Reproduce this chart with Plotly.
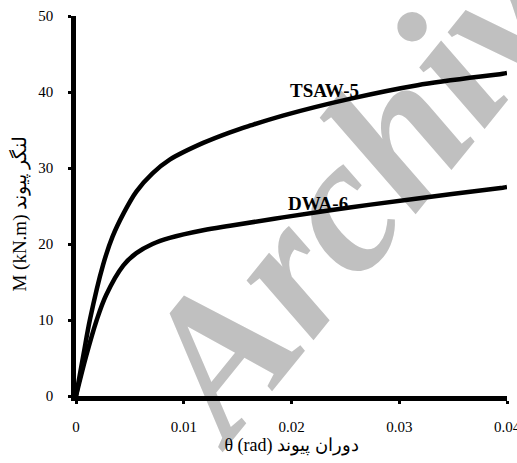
import plotly.graph_objects as go

# Data
tsaw_theta = [0, 0.0007, 0.0013, 0.0025, 0.0034, 0.0044, 0.0056, 0.0071, 0.0087,
              0.0118, 0.0143, 0.0162, 0.0192, 0.0254, 0.0317, 0.0396, 0.0400]
tsaw_m = [0, 5.5, 10.1, 17.2, 21.0, 24.0, 26.9, 29.3, 31.1,
          33.3, 34.7, 35.6, 36.9, 39.1, 40.9, 42.4, 42.5]

dwa_theta = [0, 0.00095, 0.0019, 0.0028, 0.0044, 0.0056, 0.0071, 0.0087,
             0.0118, 0.0143, 0.0192, 0.0254, 0.0317, 0.0396, 0.0400]
dwa_m = [0, 5.3, 9.9, 13.3, 17.2, 18.8, 20.0, 20.8,
         21.8, 22.4, 23.5, 24.8, 26.0, 27.4, 27.5]

x_ticks = [0, 0.01, 0.02, 0.03, 0.04]
x_tick_labels = ["0", "0.01", "0.02", "0.03", "0.04"]
y_ticks = [0, 10, 20, 30, 40, 50]

series_labels = ["TSAW-5", "DWA-6"]
label_pos = [(0.02306, 40.2), (0.0225, 25.3)]

FONT = "Liberation Serif, Times New Roman, serif"

fig = go.Figure()
fig.add_trace(go.Scatter(x=tsaw_theta, y=tsaw_m, mode="lines", name="TSAW-5",
                         line=dict(color="black", width=4.5, shape="spline", smoothing=1.0),
                         showlegend=False, cliponaxis=False))
fig.add_trace(go.Scatter(x=dwa_theta, y=dwa_m, mode="lines", name="DWA-6",
                         line=dict(color="black", width=4.5, shape="spline", smoothing=1.0),
                         showlegend=False, cliponaxis=False))

for txt, (lx, ly) in zip(series_labels, label_pos):
    fig.add_annotation(x=lx, y=ly, text="<b>" + txt + "</b>", showarrow=False,
                       font=dict(family=FONT, size=19, color="black"),
                       xanchor="center", yanchor="middle")

# y-axis title
fig.add_annotation(xref="paper", yref="paper", x=-0.13, y=0.48,
                   text="M (kN.m) لنگر پیوند", textangle=-90, showarrow=False,
                   font=dict(family=FONT, size=19, color="black"),
                   xanchor="center", yanchor="middle")

# watermark behind the plot
fig.add_shape(type="rect", xref="paper", yref="paper",
              x0=0.642, x1=0.672, y0=0.644, y1=0.674,
              line=dict(width=0), fillcolor="rgba(0,0,0,0)", layer="below",
              label=dict(text="<b><i>Archive</i></b>", textangle=-51, textposition="middle center",
                         font=dict(family=FONT, size=195, color="#c0c0c0",
                                   weight="bold", style="italic")))

fig.update_layout(
    width=517, height=463,
    margin=dict(l=76, r=10, t=16, b=67, autoexpand=False),
    paper_bgcolor="white", plot_bgcolor="white",
    font=dict(family=FONT, size=15, color="black"),
    xaxis=dict(range=[0, 0.04], tickvals=x_ticks, ticktext=x_tick_labels,
               showgrid=False, zeroline=False, showline=True, linecolor="black",
               linewidth=4.5, ticks="outside", ticklen=3, tickwidth=3, tickcolor="black",
               ticklabelstandoff=10, ticklabeloverflow="allow", automargin=False,
               title=dict(text="θ (rad) دوران پیوند", font=dict(family=FONT, size=18),
                          standoff=4)),
    yaxis=dict(range=[0, 50], tickvals=y_ticks, automargin=False,
               showgrid=False, zeroline=False, showline=True, linecolor="black",
               linewidth=4.5, ticks="outside", ticklen=3, tickwidth=3, tickcolor="black",
               ticklabelstandoff=12),
)

fig.write_html("out.html")
